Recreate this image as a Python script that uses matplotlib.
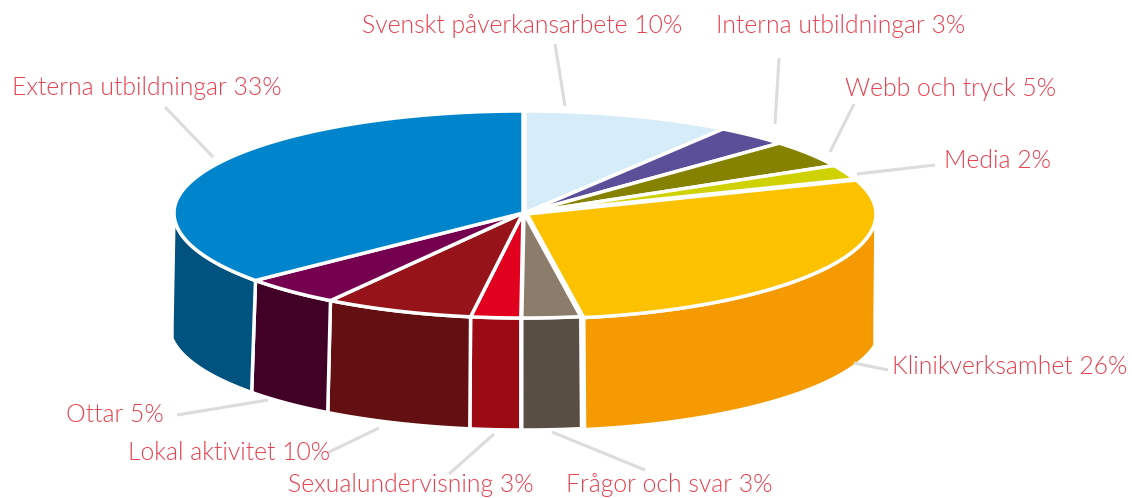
import numpy as np
import matplotlib
matplotlib.use('Agg')
import matplotlib.pyplot as plt
from matplotlib.patches import Polygon
from matplotlib import font_manager

# data
names = ['Svenskt påverkansarbete 10%', 'Interna utbildningar 3%', 'Webb och tryck 5%',
         'Media 2%', 'Klinikverksamhet 26%', 'Frågor och svar 3%', 'Sexualundervisning 3%',
         'Lokal aktivitet 10%', 'Ottar 5%', 'Externa utbildningar 33%']
# share of the circle as drawn (the drawing is not true to the labels)
shares = [9.6, 3.4, 4.3, 2.3, 27.8, 2.7, 2.3, 6.9, 4.6, 36.1]
top_colors = ['#d6ecf9', '#5b4f99', '#858200', '#cfd200', '#fcc200',
              '#8c7c6b', '#e2001f', '#97131a', '#75004f', '#0085cc']
side_colors = ['#d6ecf9', '#5b4f99', '#858200', '#cfd200', '#f59a00',
               '#584e44', '#9c0a14', '#640f12', '#410025', '#00527f']

# layout in pixels
label_x = [362, 716, 845, 944, 892, 566, 288, 128, 66, 12]
label_y = [26, 26, 89, 161, 367, 485, 485, 453, 415, 88]
leaders = [((555, 44), (565, 106)), ((779, 58), (775, 124)), ((854, 104), (830, 152)),
           ((857, 174), (935, 165)), ((854, 363), (888, 370)), ((552, 432), (645, 470)),
           ((494, 434), (449, 474)), ((379, 428), (327, 453)), ((268, 400), (177, 415)),
           ((165, 107), (213, 157))]
cx, cy = 523, 213
rx, ry_front, ry_back = 349, 105, 102
rx_bottom = 354
depth = 112
offsets_x = [2, 2, 2, 2, 4, 1, 0, 0, 0, 0]
offsets_y = [0, 0, 0, 0, 1, 0, 0, 0, 0, 0]
text_color = '#e8404f'
line_color = '#dcdcdc'

# the light cut of Lato, weight='light' picks the hairline one
light_files = [f.fname for f in font_manager.fontManager.ttflist
               if 'Lato-Light' in f.fname and 'Italic' not in f.fname]
if light_files:
    label_font = font_manager.FontProperties(fname=light_files[0], size=17.8)
else:
    label_font = font_manager.FontProperties(family='Lato', size=17.8)


def rim(a1, a2, ox, oy, r=rx):
    t = np.radians(np.linspace(a1, a2, 80))
    c = np.cos(t)
    return cx + ox + r * np.sin(t), cy + oy - np.where(c > 0, ry_back, ry_front) * c


fig = plt.figure(figsize=(11.32, 4.98), dpi=100)
ax = fig.add_axes([0, 0, 1, 1])
ax.set_xlim(0, 1132)
ax.set_ylim(498, 0)
ax.axis('off')

edges = np.concatenate([[0], np.cumsum(shares)]) / np.sum(shares) * 360

# sides first, only the front half shows
for i in range(len(shares)):
    a1 = max(edges[i], 90)
    a2 = min(edges[i + 1], 270)
    if a2 <= a1:
        continue
    x, y = rim(a1, a2, offsets_x[i], offsets_y[i])
    xb, yb = rim(a1, a2, offsets_x[i], offsets_y[i], rx_bottom)
    xb = np.clip(xb, 172, 875)
    pts = np.column_stack([np.concatenate([x, xb[::-1]]),
                           np.concatenate([y, yb[::-1] + depth])])
    ax.add_patch(Polygon(pts, closed=True, facecolor=side_colors[i],
                         edgecolor='white', linewidth=2.5, joinstyle='miter'))

# top faces
for i in range(len(shares)):
    x, y = rim(edges[i], edges[i + 1], offsets_x[i], offsets_y[i])
    pts = np.column_stack([np.concatenate([[cx + offsets_x[i]], x]),
                           np.concatenate([[cy + offsets_y[i]], y])])
    ax.add_patch(Polygon(pts, closed=True, facecolor=top_colors[i],
                         edgecolor='white', linewidth=2.5, joinstyle='miter'))

for (p1, p2) in leaders:
    ax.plot([p1[0], p2[0]], [p1[1], p2[1]], color=line_color, lw=2.2,
            solid_capstyle='butt', zorder=1)

for i in range(len(names)):
    ax.text(label_x[i], label_y[i], names[i], color=text_color, fontproperties=label_font,
            ha='left', va='center', zorder=3)

fig.savefig('out.png', dpi=100)
